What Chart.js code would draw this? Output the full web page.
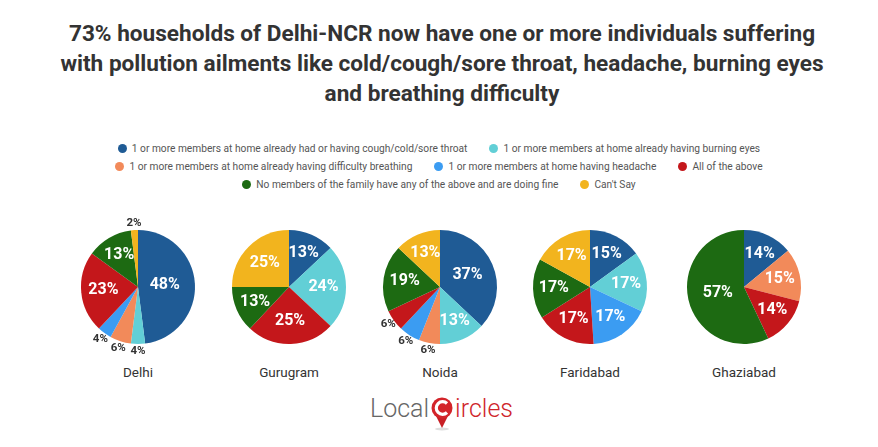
<!DOCTYPE html>
<html>
<head>
<meta charset="utf-8">
<script src="https://cdn.jsdelivr.net/npm/chart.js@4.4.1/dist/chart.umd.min.js"></script>
<style>
  body { margin:0; background:#fff; width:878px; height:447px; position:relative; overflow:hidden; font-family:Roboto, sans-serif; }
  #title { position:absolute; left:3px; top:19px; width:878px; text-align:center; font-weight:bold; font-size:22.6px; line-height:30px; color:#333; }
  #legend { position:absolute; left:0; top:139px; width:878px; font-size:10.2px; color:#555; }
  .row { display:flex; justify-content:center; align-items:center; height:18px; }
  .item { display:flex; align-items:center; margin:0 11px; white-space:nowrap; }
  .dot { width:9px; height:9px; border-radius:50%; margin-right:5px; }
  .pie { position:absolute; top:212px; }
  .city { position:absolute; top:364px; width:150px; text-align:center; font-size:13.5px; font-weight:400; color:#333; }
  #logo { position:absolute; left:370px; top:394px; height:40px; display:flex; align-items:flex-start; font-weight:300; font-size:25px; }
</style>
</head>
<body>
<div id="title">73% households of Delhi-NCR now have one or more individuals suffering<br>with pollution ailments like cold/cough/sore throat, headache, burning eyes<br>and breathing difficulty</div>
<div id="legend"></div>
<div id="pies"></div>
<div id="logo">
  <span style="color:#666;line-height:30px">Local</span>
  <svg width="24" height="40" viewBox="0 0 24 40" style="margin:0 1px">
    <ellipse cx="12" cy="35" rx="7" ry="1.5" fill="#ddd"/>
    <path d="M5 20 L12 34 L19 20 Z" fill="#c81f25"/>
    <circle cx="12" cy="14" r="10.5" fill="#d3242a"/>
    <path d="M17 9.5 A6.3 6.3 0 1 0 17 18.5" fill="none" stroke="#fff" stroke-width="3.2"/>
  </svg>
  <span style="color:#cf252b;line-height:30px">ircles</span>
</div>
<script>
const categories = [
  '1 or more members at home already had or having cough/cold/sore throat',
  '1 or more members at home already having burning eyes',
  '1 or more members at home already having difficulty breathing',
  '1 or more members at home having headache',
  'All of the above',
  'No members of the family have any of the above and are doing fine',
  "Can't Say"
];
const colors = ['#1f5b95', '#62cfd6', '#f28a5a', '#3b9cf2', '#c4171b', '#1d6a12', '#f2b41e'];
const cities = ['Delhi', 'Gurugram', 'Noida', 'Faridabad', 'Ghaziabad'];
const delhi     = [48, 4, 6, 4, 23, 13, 2];
const gurugram  = [13, 24, 0, 0, 25, 13, 25];
const noida     = [37, 13, 6, 6, 6, 19, 13];
const faridabad = [15, 17, 0, 17, 17, 17, 17];
const ghaziabad = [14, 0, 15, 0, 14, 57, 0];
const cityValues = [delhi, gurugram, noida, faridabad, ghaziabad];
const legendRows = [[0, 1], [2, 3, 4], [5, 6]];

// legend
const legend = document.getElementById('legend');
legendRows.forEach(r => {
  const row = document.createElement('div');
  row.className = 'row';
  r.forEach(i => {
    const it = document.createElement('div');
    it.className = 'item';
    it.innerHTML = '<span class="dot" style="background:' + colors[i] + '"></span>' + categories[i];
    row.appendChild(it);
  });
  legend.appendChild(row);
});

// percent labels on the slices
const pctLabels = {
  id: 'pctLabels',
  afterDatasetsDraw(chart) {
    const ctx = chart.ctx;
    const vals = chart.data.datasets[0].data;
    chart.getDatasetMeta(0).data.forEach((arc, i) => {
      const v = vals[i];
      if (!v) return;
      const p = arc.getProps(['x', 'y', 'startAngle', 'endAngle', 'outerRadius'], true);
      const mid = (p.startAngle + p.endAngle) / 2;
      const half = (p.endAngle - p.startAngle) / 2;
      let r, font, color;
      if (v >= 10) {
        r = Math.max(p.outerRadius * 0.47, 2 * p.outerRadius * Math.sin(half) / (3 * half));
        font = 'bold 16px Roboto';
        color = '#fff';
      } else {
        r = p.outerRadius + 7;
        font = 'bold 11.5px Roboto';
        color = '#333';
      }
      ctx.save();
      ctx.font = font;
      ctx.fillStyle = color;
      ctx.textAlign = 'center';
      ctx.textBaseline = 'middle';
      ctx.fillText(v + '%', p.x + Math.cos(mid) * r, p.y + Math.sin(mid) * r);
      ctx.restore();
    });
  }
};

const centers = [138, 289, 440, 590, 744];
const pies = document.getElementById('pies');
cities.forEach((name, k) => {
  const c = document.createElement('canvas');
  c.className = 'pie';
  c.width = 150; c.height = 150;
  c.style.left = (centers[k] - 75) + 'px';
  pies.appendChild(c);
  const lab = document.createElement('div');
  lab.className = 'city';
  lab.style.left = (centers[k] - 75) + 'px';
  lab.textContent = name;
  pies.appendChild(lab);
  new Chart(c, {
    type: 'pie',
    data: {
      labels: categories,
      datasets: [{ data: cityValues[k], backgroundColor: colors, borderWidth: 0 }]
    },
    options: {
      responsive: false,
      animation: false,
      layout: { padding: 18 },
      plugins: { legend: { display: false }, tooltip: { enabled: false } }
    },
    plugins: [pctLabels]
  });
});
</script>
</body>
</html>
